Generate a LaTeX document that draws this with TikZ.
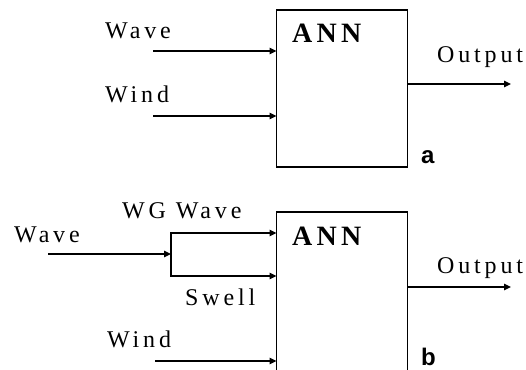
\documentclass[tikz,border=0pt]{standalone}
\usepackage{fontspec}
\setmainfont{Liberation Serif}
\newfontfamily\labfont[LetterSpace=16]{Liberation Serif}
\newfontfamily\annfont[LetterSpace=15]{Liberation Serif}
\newfontfamily\tagfont{Liberation Sans}
\usetikzlibrary{arrows.meta}
\begin{document}
\begin{tikzpicture}[x=1pt,y=-1pt,
  lab/.style={anchor=base west,inner sep=0pt,font=\labfont\fontsize{24}{24}\selectfont},
  annlab/.style={anchor=base west,inner sep=0pt,font=\annfont\bfseries\fontsize{28}{28}\selectfont},
  tag/.style={anchor=base west,inner sep=0pt,font=\tagfont\bfseries\fontsize{24}{24}\selectfont},
  annbox/.style={draw,line width=1.4pt,inner sep=0pt,outer sep=0pt,minimum width=131pt},
  arr/.style={line width=1.4pt,-{Triangle[length=7pt,width=6.5pt]}}]
\clip (0,0) rectangle (526,369);
% ---- (a) ----
\node[annbox,minimum height=157pt] (annA) at (342,88.5) {};
\node[annlab] (annAt) at (292,42) {ANN};
\node[lab] (waveAt) at (105,38) {Wave};
\node[lab] (windAt) at (105,102) {Wind};
\node[lab] (outAt) at (437,62) {Output};
\node[tag] (tagA) at (421,163) {a};
\coordinate (waveA) at (153,51);
\coordinate (windA) at (153,116);
\coordinate (outA) at (511,84);
\draw[arr] (waveA) -- (waveA -| annA.west);
\draw[arr] (windA) -- (windA -| annA.west);
\draw[arr] (outA -| annA.east) -- (outA);
% ---- (b) ----
\node[annbox,minimum height=170pt] (annB) at (342,297) {};
\node[annlab] (annBt) at (292,245) {ANN};
\node[lab] (waveBt) at (14,242) {Wave};
\node[lab] (wgBt) at (122,218) {WG Wave};
\node[lab] (swBt) at (185,305) {Swell};
\node[lab] (windBt) at (107,347) {Wind};
\node[lab] (outBt) at (437,273) {Output};
\node[tag] (tagB) at (421,365) {b};
\coordinate (waveB) at (48,254);
\coordinate (split) at (171,254);
\coordinate (wg) at (171,233);
\coordinate (sw) at (171,276);
\coordinate (windB) at (155,361);
\coordinate (outB) at (511,287);
\draw[arr] (waveB) -- (split);
\draw[arr] (split) -- (wg) -- (wg -| annB.west);
\draw[arr] (split) -- (sw) -- (sw -| annB.west);
\draw[arr] (windB) -- (windB -| annB.west);
\draw[arr] (outB -| annB.east) -- (outB);
\end{tikzpicture}
\end{document}
